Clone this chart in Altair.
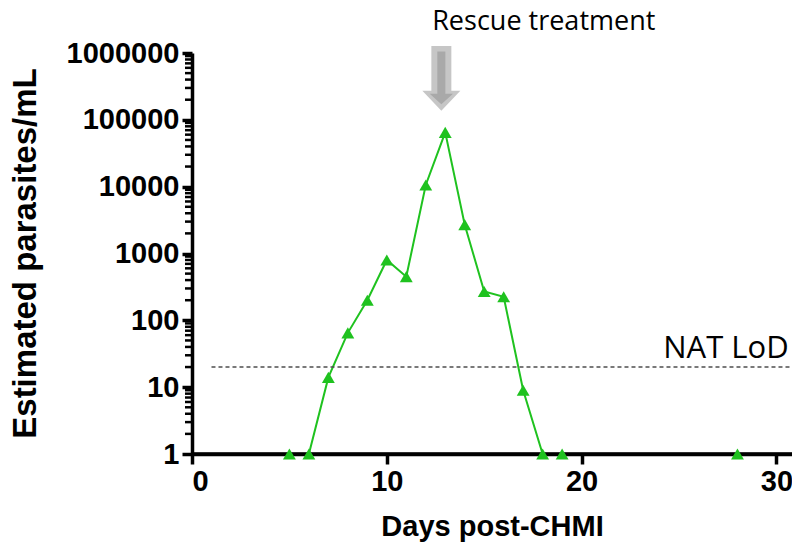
import altair as alt
import pandas as pd

# Parasite density per day after controlled human malaria infection
days = [5, 6, 7, 8, 9, 10, 11, 12, 13, 14, 15, 16, 17, 18, 19, 28]
parasites = [1, 1, 14, 65, 200, 800, 450, 10600, 65000, 2700, 270, 225, 9, 1, 1, 1]

# Detection limit of the nucleic acid test
lod_value = 20
lod_x = [1, 30.8]

# Rescue treatment annotation (day, height) and label anchors
rescue_day = [12.8]
rescue_arrow_y = [416000]
rescue_label = ["Rescue treatment"]
rescue_label_pos = [12.33, 2210000]
lod_label = ["NAT LoD"]
lod_label_pos = [24.19, 27.3]

major_ticks = [1, 10, 100, 1000, 10000, 100000, 1000000]
minor_ticks = [m * 10 ** e for e in range(6) for m in range(2, 10)]

GREEN = "#1fc21f"
X_MAX = 30.8
AXIS_FONT = "Liberation Sans"

df = pd.DataFrame({"day": days, "parasites": parasites})

x_scale = alt.Scale(domain=[0, X_MAX], nice=False, zero=False)
y_scale = alt.Scale(type="log", domain=[1, 1000000], nice=False)

shared_axis = dict(
    grid=False,
    ticks=True,
    tickSize=10,
    tickColor="black",
    tickWidth=3.5,
    domainColor="black",
    domainWidth=3.5,
    labelFont=AXIS_FONT,
    labelFontWeight="bold",
    labelFontSize=29,
    labelColor="black",
    labelPadding=3,
    titleFont=AXIS_FONT,
    titleFontWeight="bold",
    titleColor="black",
)

x_axis = alt.Axis(
    values=[0, 10, 20, 30],
    title="Days post-CHMI",
    titleFontSize=29,
    titleY=81,
    titleBaseline="alphabetic",
    **shared_axis,
)
y_axis = alt.Axis(
    values=major_ticks,
    format="d",
    title="Estimated parasites/mL",
    labelOverlap=False,
    labelFlush=False,
    titleFontSize=33,
    titleAngle=-90,
    titleAlign="center",
    titleBaseline="middle",
    titleX=-167,
    titleY=200,
    **shared_axis,
)

base = alt.Chart(df)

line = base.mark_line(color=GREEN, strokeWidth=2).encode(
    x=alt.X("day:Q", scale=x_scale, axis=x_axis),
    y=alt.Y("parasites:Q", scale=y_scale, axis=y_axis),
)
points = base.mark_point(
    shape="triangle-up", filled=True, color=GREEN, size=165, opacity=1
).encode(x="day:Q", y="parasites:Q")

# Baseline drawn over the line so the segments lying on y = 1 sit under the axis
baseline_df = pd.DataFrame({"x": [0], "x2": [X_MAX], "y": [major_ticks[0]]})
baseline = alt.Chart(baseline_df).mark_rule(color="black", strokeWidth=3.5).encode(
    x="x:Q", x2="x2:Q", y="y:Q"
)

# Minor log ticks on the left axis
minor_df = pd.DataFrame({"v": minor_ticks})
minor = alt.Chart(minor_df).mark_rule(color="black", strokeWidth=2.5).encode(
    x=alt.value(-7), x2=alt.value(0), y="v:Q"
)

lod_df = pd.DataFrame({"x": [lod_x[0]], "x2": [lod_x[1]], "y": [lod_value]})
lod_line = alt.Chart(lod_df).mark_rule(
    color="#4d4d4d", strokeWidth=1.6, strokeDash=[4, 3]
).encode(x="x:Q", x2="x2:Q", y="y:Q")

arrow_df = pd.DataFrame({"day": rescue_day, "y": rescue_arrow_y})
outer_path = "M-0.309,-1L0.309,-1L0.309,0.382L0.587,0.382L0,1L-0.587,0.382L-0.309,0.382Z"
inner_path = "M-0.124,-0.83L0.124,-0.83L0.124,0.47L0.36,0.47L0,0.8L-0.36,0.47L-0.124,0.47Z"
arrow_outer = alt.Chart(arrow_df).mark_point(
    shape=outer_path, filled=True, color="#c6c6c6", size=4186, opacity=1, strokeWidth=0
).encode(x="day:Q", y="y:Q")
arrow_inner = alt.Chart(arrow_df).mark_point(
    shape=inner_path, filled=True, color="#a9a9a9", size=4186, opacity=1, strokeWidth=0
).encode(x="day:Q", y="y:Q")

rescue_df = pd.DataFrame(
    {"x": [rescue_label_pos[0]], "y": [rescue_label_pos[1]], "t": rescue_label}
)
rescue_text = alt.Chart(rescue_df).mark_text(
    align="left", baseline="alphabetic", font="Open Sans", fontSize=27, color="black"
).encode(x="x:Q", y="y:Q", text="t:N")

lod_text_df = pd.DataFrame(
    {"x": [lod_label_pos[0]], "y": [lod_label_pos[1]], "t": lod_label}
)
lod_text = alt.Chart(lod_text_df).mark_text(
    align="left", baseline="alphabetic", font="Open Sans", fontSize=31, color="black"
).encode(x="x:Q", y="y:Q", text="t:N")

chart = (
    alt.layer(
        line, lod_line, baseline, minor, points,
        arrow_outer, arrow_inner, rescue_text, lod_text,
    )
    .properties(
        width=600,
        height=401,
        autosize=alt.AutoSizeParams(type="none"),
        padding={"left": 192, "top": 53, "right": 0, "bottom": 94},
    )
    .configure_view(strokeWidth=0)
)

chart.save("out.html", embed_options={"renderer": "svg", "actions": False})
